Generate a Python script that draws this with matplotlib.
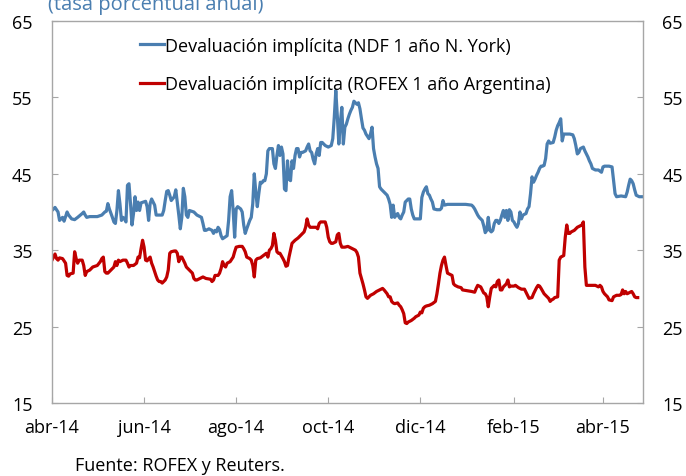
import matplotlib.pyplot as plt
import matplotlib.dates as mdates
import pandas as pd

plt.rcParams['font.family'] = ['Open Sans', 'DejaVu Sans']

inicio = pd.Timestamp('2014-04-01')

# dias desde 01-04-2014 y tasa (%)
dias_ndf = [0, 2, 4, 5, 7, 8, 9, 10, 11, 13, 15, 17, 20, 21, 22, 23, 25, 30, 33, 35,
            36, 37, 38, 40, 41, 42, 43, 44, 45, 46, 47, 48, 49, 50, 51, 52, 53, 54, 55, 56,
            57, 58, 59, 62, 63, 64, 65, 66, 68, 69, 73, 74, 75, 76, 77, 78, 79, 81, 82, 83,
            84, 85, 86, 87, 88, 89, 90, 91, 94, 96, 99, 100, 101, 102, 104, 106, 107, 108, 109, 110,
            111, 112, 113, 116, 117, 118, 119, 120, 121, 122, 123, 125, 126, 127, 128, 129, 131, 132, 133, 134,
            135, 136, 137, 138, 139, 140, 141, 142, 143, 144, 146, 147, 148, 149, 150, 151, 152, 153, 154, 155,
            156, 157, 158, 159, 160, 161, 162, 163, 164, 165, 166, 168, 169, 170, 171, 172, 173, 174, 175, 176,
            177, 178, 179, 181, 183, 185, 186, 187, 188, 189, 190, 191, 192, 193, 194, 195, 196, 197, 198, 199,
            200, 202, 203, 204, 205, 206, 207, 208, 210, 211, 212, 213, 214, 215, 216, 217, 218, 220, 222, 223,
            224, 225, 226, 227, 228, 229, 230, 231, 232, 233, 234, 235, 236, 237, 238, 239, 240, 243, 244, 245,
            246, 247, 248, 249, 250, 251, 252, 253, 255, 257, 258, 259, 260, 262, 269, 274, 278, 279, 280, 281,
            282, 283, 285, 286, 287, 288, 289, 290, 291, 292, 293, 294, 295, 296, 297, 298, 299, 300, 301, 302,
            303, 304, 305, 306, 307, 308, 309, 310, 311, 312, 313, 314, 315, 316, 317, 318, 319, 320, 321, 322,
            323, 324, 325, 326, 327, 328, 329, 330, 332, 333, 334, 335, 336, 337, 338, 339, 340, 341, 343, 345,
            346, 347, 348, 349, 350, 352, 353, 354, 355, 356, 357, 358, 360, 362, 364, 365, 366, 369, 371, 372,
            373, 374, 377, 380, 381, 382, 383, 384, 385, 386, 387, 389, 392]
ndf = [40.2, 40.6, 40.0, 38.9, 39.3, 38.8, 39.4, 40.0, 39.6, 39.1, 39.0, 39.3, 39.8, 40.0, 39.6, 39.3, 39.4, 39.4, 39.6, 40.0,
       40.1, 41.1, 40.4, 39.3, 38.7, 38.5, 40.2, 42.8, 41.1, 38.9, 39.3, 39.1, 38.7, 43.5, 43.7, 41.1, 38.3, 39.8, 42.0, 40.2,
       41.3, 40.2, 41.2, 41.4, 40.7, 38.9, 41.1, 41.7, 40.9, 39.6, 39.6, 40.2, 41.5, 42.7, 42.8, 42.2, 41.5, 42.0, 42.9, 41.3,
       39.6, 37.8, 39.3, 43.1, 42.0, 39.6, 39.3, 40.2, 40.0, 39.6, 39.3, 38.5, 37.6, 37.6, 37.8, 37.6, 37.2, 37.6, 37.4, 38.0,
       37.7, 36.9, 36.5, 36.9, 38.9, 42.0, 42.8, 40.2, 36.7, 40.4, 40.7, 40.4, 40.0, 38.3, 37.2, 37.8, 38.9, 39.3, 41.1, 45.0,
       42.6, 40.7, 42.4, 43.9, 43.8, 44.1, 44.1, 45.0, 48.0, 48.3, 48.3, 46.3, 45.7, 47.4, 48.7, 47.4, 48.5, 47.6, 43.0, 42.8,
       46.7, 44.3, 44.1, 46.7, 45.7, 47.4, 48.3, 48.3, 47.2, 47.8, 47.8, 48.0, 48.5, 48.9, 48.0, 47.8, 46.9, 46.3, 47.6, 48.3,
       47.4, 49.1, 49.1, 48.7, 48.5, 48.7, 49.6, 52.4, 55.9, 52.6, 48.9, 51.7, 53.7, 48.9, 51.1, 51.5, 52.2, 52.8, 53.3, 53.7,
       54.5, 54.1, 54.3, 53.5, 52.2, 51.0, 50.7, 50.2, 49.6, 50.2, 51.1, 48.3, 47.2, 46.3, 45.7, 43.3, 43.0, 42.6, 42.2, 41.7,
       41.0, 39.3, 40.9, 39.3, 39.6, 39.8, 39.3, 39.1, 39.6, 40.0, 41.3, 41.5, 41.7, 41.7, 40.4, 39.6, 39.1, 39.1, 39.1, 41.9,
       42.6, 43.0, 43.3, 42.4, 42.2, 41.7, 41.3, 40.4, 40.3, 40.3, 40.5, 41.5, 40.9, 41.0, 41.0, 41.0, 40.9, 40.7, 40.4, 40.0,
       39.6, 39.3, 38.9, 38.2, 37.3, 37.6, 39.3, 37.6, 37.4, 37.6, 38.5, 38.9, 38.9, 38.5, 38.9, 39.6, 40.2, 39.3, 40.2, 38.9,
       40.3, 40.0, 38.9, 38.7, 38.3, 38.0, 38.5, 40.0, 39.1, 39.6, 39.7, 39.8, 40.4, 40.7, 42.4, 44.6, 43.9, 44.3, 44.8, 45.2,
       45.7, 46.0, 46.0, 46.1, 47.0, 48.9, 49.3, 49.0, 49.1, 49.8, 50.7, 51.3, 51.7, 52.2, 49.3, 50.2, 50.2, 50.2, 50.2, 50.1,
       49.6, 48.7, 47.6, 47.8, 48.3, 48.5, 48.0, 47.6, 47.2, 46.7, 46.3, 45.7, 45.5, 45.5, 45.2, 45.9, 46.0, 46.0, 45.9, 44.1,
       42.4, 42.0, 42.1, 42.0, 42.6, 43.5, 44.3, 44.1, 43.7, 42.9, 42.2, 42.0, 42.0]

dias_rofex = [0, 1, 2, 3, 4, 5, 7, 9, 10, 11, 12, 14, 15, 16, 17, 18, 20, 21, 22, 23,
              25, 27, 30, 32, 33, 34, 35, 36, 37, 39, 41, 42, 43, 44, 45, 47, 49, 50, 51, 52,
              54, 56, 57, 58, 59, 60, 61, 62, 63, 64, 65, 66, 67, 68, 69, 70, 71, 72, 73, 74,
              75, 76, 77, 78, 79, 81, 82, 83, 84, 85, 86, 88, 89, 90, 91, 93, 94, 95, 96, 98,
              100, 102, 105, 106, 107, 108, 110, 111, 112, 113, 114, 115, 116, 118, 120, 121, 122, 124, 126, 127,
              128, 129, 131, 132, 133, 134, 135, 136, 138, 140, 142, 143, 144, 145, 146, 147, 148, 149, 150, 151,
              153, 154, 155, 156, 157, 158, 159, 161, 163, 165, 166, 167, 168, 169, 170, 171, 173, 175, 176, 177,
              178, 181, 182, 183, 184, 185, 186, 188, 189, 190, 191, 192, 194, 196, 197, 199, 201, 202, 203, 204,
              205, 206, 207, 208, 209, 211, 213, 215, 217, 219, 220, 222, 223, 224, 225, 226, 227, 229, 230, 231,
              232, 233, 234, 235, 236, 238, 240, 241, 243, 244, 245, 246, 247, 248, 250, 252, 254, 255, 256, 257,
              258, 259, 260, 261, 262, 263, 265, 266, 267, 269, 271, 272, 275, 278, 280, 281, 282, 283, 284, 285,
              286, 287, 288, 289, 290, 291, 292, 293, 294, 295, 296, 297, 298, 299, 300, 301, 302, 303, 304, 306,
              307, 309, 311, 313, 315, 316, 318, 319, 320, 321, 322, 323, 324, 326, 328, 329, 330, 331, 332, 333,
              335, 336, 337, 338, 339, 340, 341, 342, 343, 344, 346, 348, 351, 352, 353, 354, 355, 357, 360, 362,
              363, 364, 365, 366, 368, 369, 371, 372, 374, 376, 377, 378, 379, 380, 381, 382, 384, 385, 386, 387,
              388]
rofex = [33.7, 34.1, 34.5, 33.9, 33.7, 34.0, 33.9, 33.3, 31.7, 31.6, 31.9, 32.0, 34.8, 33.9, 33.3, 33.7, 33.7, 33.0, 31.7, 32.2,
         32.4, 32.8, 33.0, 33.5, 33.9, 34.1, 32.2, 32.0, 32.0, 32.4, 32.8, 33.5, 33.0, 33.7, 33.5, 33.7, 33.7, 33.3, 32.8, 33.0,
         33.0, 33.3, 34.1, 34.0, 35.2, 36.3, 35.4, 33.7, 33.6, 33.9, 34.1, 33.3, 32.8, 32.2, 31.6, 31.1, 30.9, 30.9, 30.7, 30.9,
         31.1, 31.5, 32.4, 34.6, 34.8, 34.9, 34.9, 34.6, 33.5, 34.1, 34.1, 33.3, 32.8, 32.6, 32.4, 32.0, 31.3, 31.1, 31.1, 31.3,
         31.5, 31.3, 31.2, 30.9, 31.1, 31.7, 31.7, 32.0, 32.6, 33.5, 33.0, 32.8, 33.3, 33.5, 34.1, 34.8, 35.4, 35.5, 35.5, 35.2,
         34.8, 34.1, 33.9, 33.7, 33.0, 31.5, 33.7, 33.9, 34.0, 34.3, 34.6, 34.1, 35.0, 35.2, 35.6, 37.2, 36.3, 34.8, 34.6, 34.6,
         33.9, 33.5, 32.9, 33.0, 34.1, 35.0, 35.9, 36.3, 36.6, 37.0, 37.2, 37.4, 38.0, 39.1, 38.3, 38.0, 38.0, 38.0, 37.8, 38.5,
         38.7, 38.7, 38.0, 36.7, 36.1, 35.9, 35.9, 36.1, 37.0, 37.2, 35.9, 35.4, 35.4, 35.5, 35.4, 35.2, 35.0, 34.7, 34.1, 32.0,
         31.3, 30.6, 29.8, 28.9, 28.7, 29.1, 29.3, 29.6, 29.8, 30.0, 29.8, 29.3, 28.9, 28.9, 28.3, 28.1, 28.0, 28.1, 27.8, 27.6,
         27.2, 26.7, 25.5, 25.4, 25.6, 25.8, 26.1, 26.3, 26.5, 26.9, 26.8, 27.4, 27.6, 27.7, 27.8, 28.0, 28.3, 29.3, 30.6, 32.0,
         33.0, 33.7, 34.1, 33.0, 32.0, 31.9, 31.7, 30.6, 30.4, 30.2, 30.1, 29.8, 29.7, 29.6, 29.5, 30.0, 30.4, 30.3, 30.2, 29.8,
         29.4, 29.3, 28.9, 27.6, 28.9, 30.0, 30.2, 30.4, 30.2, 30.9, 31.1, 29.8, 29.8, 30.2, 30.4, 30.6, 31.1, 30.2, 30.3, 30.3,
         30.4, 30.1, 29.9, 29.9, 29.1, 28.7, 28.8, 29.3, 29.7, 30.1, 30.4, 30.3, 30.0, 29.3, 28.9, 28.7, 28.3, 28.5, 28.6, 28.8,
         28.9, 33.7, 34.1, 34.2, 34.3, 36.7, 38.3, 37.2, 37.2, 37.4, 37.6, 38.0, 38.3, 38.7, 32.8, 30.4, 30.4, 30.4, 30.4, 30.2,
         30.4, 30.2, 29.6, 29.3, 28.9, 28.5, 28.4, 28.9, 29.1, 29.1, 29.2, 29.8, 29.3, 29.6, 29.3, 29.4, 29.6, 29.3, 28.9, 28.8,
         28.8]

etiquetas_x = ['abr-14', 'jun-14', 'ago-14', 'oct-14', 'dic-14', 'feb-15', 'abr-15']
fechas_x = ['2014-04-01', '2014-06-01', '2014-08-01', '2014-10-01', '2014-12-01', '2015-02-01', '2015-04-01']
ticks_y = [15, 25, 35, 45, 55, 65]

fechas_ndf = inicio + pd.to_timedelta(dias_ndf, unit='D')
fechas_rofex = inicio + pd.to_timedelta(dias_rofex, unit='D')

azul = '#4a7eb0'
rojo = '#c00000'
gris = '#a6a6a6'

fig = plt.figure(figsize=(6.86, 4.77), dpi=100)
ax = fig.add_axes([0.0758, 0.153, 0.8615, 0.8009])

ax.plot(fechas_ndf, ndf, color=azul, lw=2.3, label='Devaluación implícita (NDF 1 año N. York)')
ax.plot(fechas_rofex, rofex, color=rojo, lw=2.3, label='Devaluación implícita (ROFEX 1 año Argentina)')

ax.set_xlim(inicio, inicio + pd.Timedelta(days=391.5))
ax.set_ylim(15, 65)
ax.set_yticks(ticks_y)
ax.set_xticks(pd.to_datetime(fechas_x))
ax.set_xticklabels(etiquetas_x)

for s in ax.spines.values():
    s.set_color(gris)
    s.set_linewidth(1.0)

ax.tick_params(axis='y', which='both', direction='in', length=4, color=gris,
               labelsize=13, pad=14, left=True, right=True, labelleft=True, labelright=True)
ax.tick_params(axis='x', direction='in', length=4, color=gris, labelsize=13, pad=11)

ax.legend(loc='upper left', bbox_to_anchor=(0.137, 0.978), frameon=False, fontsize=13,
          handlelength=1.3, handletextpad=0.1, labelspacing=1.13, borderaxespad=0)

fig.text(48 / 686, 1 - 10 / 477, '(tasa porcentual anual)', color=azul, fontsize=14.5, va='baseline')
fig.text(75 / 686, 1 - 471 / 477, 'Fuente: ROFEX y Reuters.', fontsize=13, va='baseline')

fig.savefig('out.png', dpi=100)
